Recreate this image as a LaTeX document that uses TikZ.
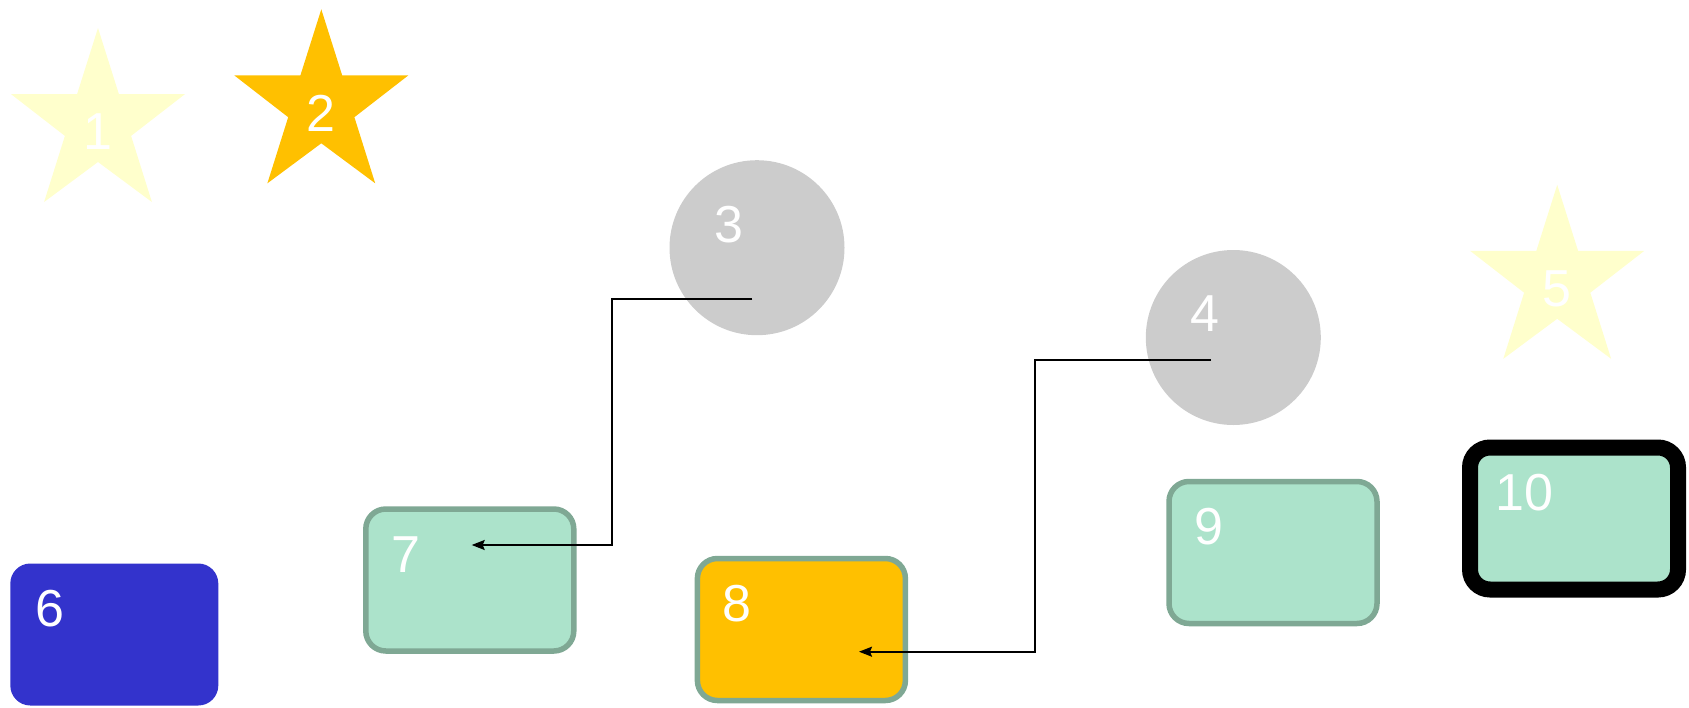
\documentclass[tikz,border=0pt]{standalone}
\usepackage{fontspec}
\setmainfont{Liberation Sans}
\usetikzlibrary{arrows.meta}

\definecolor{paleyellow}{HTML}{FFFFCC}
\definecolor{amber}{HTML}{FFC000}
\definecolor{discgray}{HTML}{CCCCCC}
\definecolor{royal}{HTML}{3333CC}
\definecolor{mint}{HTML}{ACE3CB}
\definecolor{sage}{HTML}{7FA894}

\tikzset{
  num/.style={text=white, inner sep=0pt, font=\fontsize{52}{52}\selectfont},
  disc/.style={circle, fill=discgray, minimum size=175pt, inner sep=0pt},
  discnum/.style={label={[num, anchor=center, xshift=-28pt, yshift=23.5pt]center:#1}},
  card/.style={rectangle, rounded corners=20pt, minimum width=208pt,
    minimum height=142pt, inner sep=0pt, outer sep=0pt},
  mintcard/.style={card, fill=mint, draw=sage, line width=5.5pt},
  cardnum/.style={label={[num, anchor=base west, xshift=25pt, yshift=-63pt]north west:#1}},
  wire/.style={line width=1.7pt, -{Stealth[length=13pt, width=10pt, inset=2pt]}}
}

\begin{document}
\begin{tikzpicture}[x=1pt, y=-1pt]
  \useasboundingbox (0,0) rectangle (1689,707);

  % stars
  \foreach \n/\x/\y/\c in {1/98/115/paleyellow, 2/321.3/96.3/amber, 5/1557.2/271.8/paleyellow} {
    \fill[\c, shift={(\x-87,\y-87)}]
      (87,0) -- (107.9,66.1) -- (174,66.1) -- (120.1,107.9) -- (140.9,174)
      -- (87,134) -- (33.1,174) -- (53.9,107.9) -- (0,66.1) -- (66.1,66.1) -- cycle;
    \node[num] (s\n) at (\x,\y+17) {\n};
  }

  % circles
  \node[disc, discnum=3] (c3) at (757,247.7) {};
  \node[disc, discnum=4] (c4) at (1233.3,337.5) {};

  % boxes
  \node[card, fill=royal, cardnum=6] (b6) at (114.3,634.5) {};
  \node[mintcard, cardnum=7] (b7) at (469.8,580) {};
  \node[mintcard, fill=amber, cardnum=8] (b8) at (801.4,629.5) {};
  \node[mintcard, cardnum=9] (b9) at (1273,552.5) {};
  \node[card, fill=mint, draw=black, line width=16pt, cardnum=10] (b10) at (1574,518.5) {};

  % connectors
  \coordinate (o3) at (752.3,298.7);
  \coordinate (i7) at (471.7,545);
  \coordinate (o4) at (1211,359.7);
  \coordinate (i8) at (859,651.7);

  \draw[wire] (o3) -- ++(-140.6,0) |- (i7);
  \draw[wire] (o4) -- ++(-176.3,0) |- (i8);
\end{tikzpicture}
\end{document}
